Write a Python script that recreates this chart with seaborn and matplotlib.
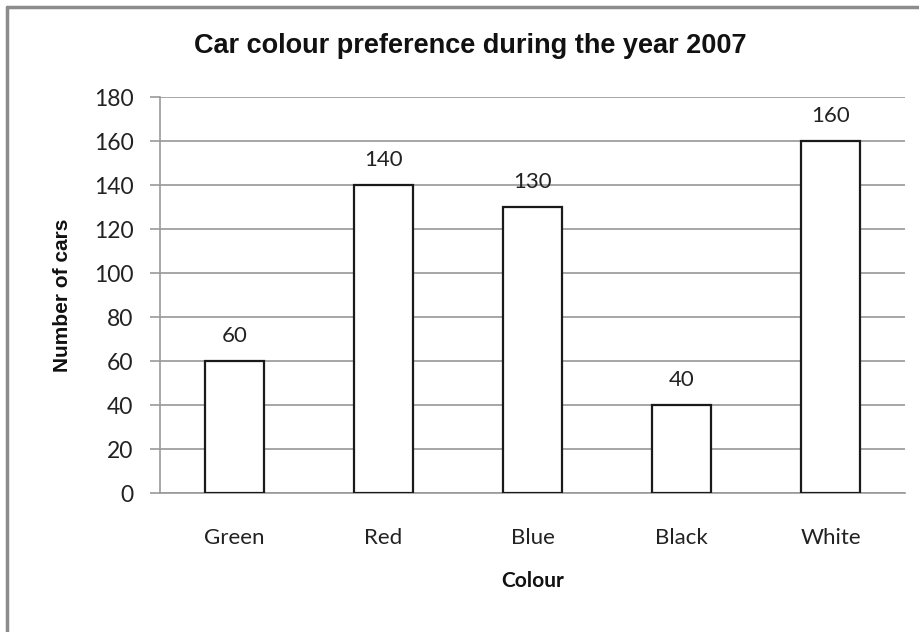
import matplotlib
matplotlib.use("Agg")
import matplotlib.pyplot as plt
from matplotlib.lines import Line2D
import seaborn as sns
import pandas as pd

colours = ["Green", "Red", "Blue", "Black", "White"]
counts = [60, 140, 130, 40, 160]
yticks = [0, 20, 40, 60, 80, 100, 120, 140, 160, 180]

df = pd.DataFrame({"Colour": colours, "Number of cars": counts})

sns.set_theme(style="white")
plt.rcParams["font.family"] = ["Lato", "DejaVu Sans"]

fig = plt.figure(figsize=(9.2, 6.32), dpi=100)
ax = fig.add_axes([0.1739, 0.2199, 0.8098, 0.6266])

sns.barplot(data=df, x="Colour", y="Number of cars", order=colours, ax=ax,
            width=0.4, color="white", edgecolor="#1a1a1a", linewidth=1.6,
            saturation=1, errorbar=None, zorder=3)

ax.set_ylim(0, 180)
ax.set_yticks(yticks)
ax.set_yticklabels([str(v) for v in yticks])
ax.yaxis.grid(True, color="#a6a6a6", linewidth=1.4, zorder=0)
ax.set_axisbelow(True)

for s in ["top", "right"]:
    ax.spines[s].set_visible(False)
for s in ["left", "bottom"]:
    ax.spines[s].set_color("#999999")
    ax.spines[s].set_linewidth(1.2)

ax.tick_params(axis="y", length=7, width=1.2, color="#999999", labelsize=16.5,
               labelcolor="#222222", pad=12, left=True)
ax.tick_params(axis="x", length=0, labelsize=16, labelcolor="#222222", pad=25)

for i, v in enumerate(counts):
    ax.annotate(str(v), (i, v), xytext=(0, 11), textcoords="offset points",
                ha="center", va="bottom", fontsize=16, color="#222222")

ax.set_xlabel("Colour", fontsize=15, fontweight="bold", labelpad=17, color="#111111")
ax.set_ylabel("Number of cars", fontsize=15, fontweight="bold", labelpad=16,
              color="#111111", family=["Liberation Sans", "DejaVu Sans"])

fig.text(0.511, 0.927, "Car colour preference during the year 2007", ha="center",
         va="center", fontsize=19.5, fontweight="bold",
         family=["Liberation Sans Narrow", "Liberation Sans", "DejaVu Sans"],
         color="#111111")

fig.add_artist(Line2D([0.0075, 0.0075], [0, 0.989], transform=fig.transFigure,
                      color="#8c8c8c", linewidth=2.5))
fig.add_artist(Line2D([0.0075, 1.0], [0.989, 0.989], transform=fig.transFigure,
                      color="#8c8c8c", linewidth=2.5))

fig.savefig("out.png", dpi=100, facecolor="white")
